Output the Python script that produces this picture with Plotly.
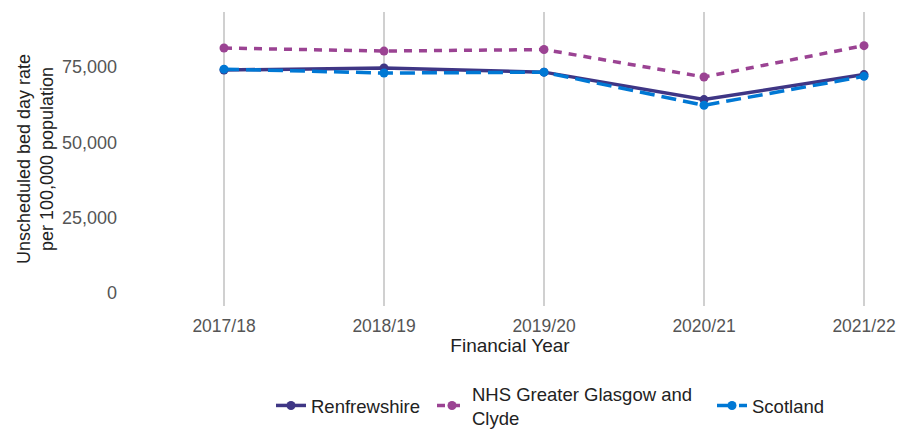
import plotly.graph_objects as go

years = ["2017/18", "2018/19", "2019/20", "2020/21", "2021/22"]
renfrewshire = [74000, 74700, 73300, 64200, 72500]
nhs_ggc = [81300, 80300, 80800, 71700, 82100]
scotland = [74300, 73000, 73300, 62300, 71900]

series = [
    ("Renfrewshire", renfrewshire, "#3F3685", "solid", "legend"),
    ("NHS Greater Glasgow and<br>Clyde", nhs_ggc, "#9B4393", "8px,7px", "legend2"),
    ("Scotland", scotland, "#0078D4", "15px,7px", "legend3"),
]

fig = go.Figure()
for name, vals, col, dash, lg in series:
    fig.add_trace(go.Scatter(
        x=years, y=vals, name=name, mode="lines+markers",
        line=dict(color=col, width=3.5, dash=dash),
        marker=dict(color=col, size=9),
        legend=lg,
    ))

font = "Liberation Sans, Arial, sans-serif"
W, H = 899, 430


def leg(xpx):
    return dict(orientation="h", x=xpx / W, xanchor="left", xref="container",
                y=0.056, yref="container", yanchor="middle",
                font=dict(size=18.5, color="#222222"), itemwidth=30,
                bgcolor="rgba(0,0,0,0)", valign="middle")


fig.update_layout(
    width=W, height=H,
    margin=dict(l=130, r=9, t=12, b=124, autoexpand=False),
    paper_bgcolor="white", plot_bgcolor="white",
    font=dict(family=font, size=19, color="#222222"),
    showlegend=True,
    legend=leg(271),
    legend2=leg(432),
    legend3=leg(712),
    xaxis=dict(
        type="category", range=[-0.5875, 4.1625], automargin=False,
        showgrid=True, gridcolor="#d0d0d0", gridwidth=2,
        zeroline=False, showline=False, ticks="",
        ticklabelstandoff=7, ticklabeloverflow="allow",
        tickfont=dict(size=17.5, color="#555555"),
        title=dict(text="Financial Year", font=dict(size=19, color="#222222"), standoff=2),
    ),
    yaxis=dict(
        range=[-4300, 93260], tickvals=[0, 25000, 50000, 75000], tickformat=",",
        automargin=False, ticks="", ticklabelstandoff=12,
        showgrid=False, zeroline=False, showline=False,
        tickfont=dict(size=18, color="#555555"),
        title=dict(text="Unscheduled bed day rate<br>per 100,000 population",
                   font=dict(size=18, color="#222222"), standoff=3),
    ),
)

fig.write_html(
    "out.html",
    config={"displayModeBar": False},
    post_script="document.body.style.margin='0';document.body.style.overflow='hidden';",
)
